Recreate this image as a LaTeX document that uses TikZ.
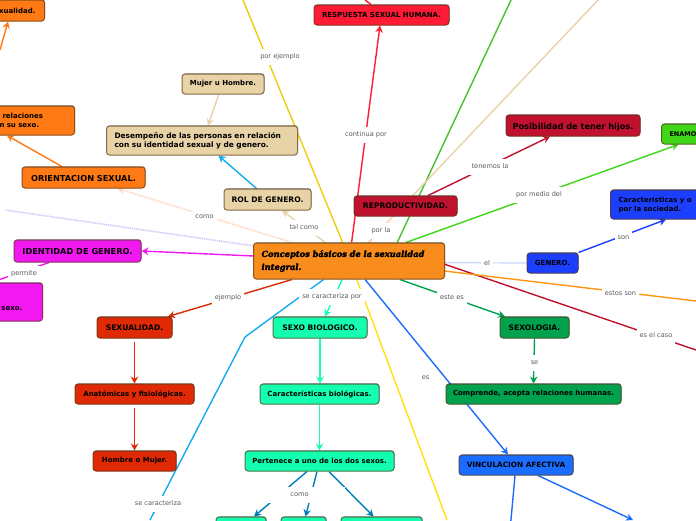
\documentclass[tikz,border=0pt]{standalone}
\usepackage{fontspec}
\setmainfont{DejaVu Sans}
\newfontfamily\titlefont{DejaVu Serif}[BoldItalicFeatures={FakeBold=2.6}]
\usetikzlibrary{arrows.meta,backgrounds,shadows}
\definecolor{cEdge}{HTML}{5A3A1A}
\definecolor{cTan}{HTML}{E8D3A7}
\definecolor{cOrange}{HTML}{FF7A14}
\definecolor{cCentral}{HTML}{F88D1E}
\definecolor{cMagenta}{HTML}{F218F2}
\definecolor{cRust}{HTML}{E02A05}
\definecolor{cAqua}{HTML}{14FFB0}
\definecolor{cRed}{HTML}{FF1A35}
\definecolor{cCrimson}{HTML}{C0112E}
\definecolor{cLime}{HTML}{3ED616}
\definecolor{cGrass}{HTML}{48C030}
\definecolor{cBlue}{HTML}{1C3FFF}
\definecolor{cSea}{HTML}{00A24E}
\definecolor{cAzure}{HTML}{1A6DFF}
\definecolor{cSky}{HTML}{14AAF0}
\definecolor{cDeep}{HTML}{007DB5}
\definecolor{cYellow}{HTML}{FFE010}
\definecolor{cLav}{HTML}{D5C8F8}
\definecolor{cPeach}{HTML}{FCD9C0}
\tikzset{
  box/.style={draw=#1!30!cEdge,fill=#1,line width=1,rounded corners=3,inner sep=0,align=center,text=black,
    font=\bfseries\fontsize{7}{9}\selectfont,
    drop shadow={shadow xshift=.6,shadow yshift=-.8,opacity=.35,fill=black}},
  big/.style={font=\bfseries\fontsize{8.2}{10}\selectfont,text height=7,text depth=0},
  caps/.style={font=\bfseries\fontsize{7.6}{9}\selectfont},
  link/.style={draw=#1,line width=1.4,-{Stealth[length=7,width=7.5]}},
  line/.style={draw=#1,line width=1.4},
  pale/.style={draw=#1,line width=1.6,dash pattern=on 1.4 off .8},
  lbl/.style={fill=white,inner xsep=3,inner ysep=0,minimum height=16,text=black!65,font=\fontsize{6.6}{8}\selectfont},
}
\begin{document}
\begin{tikzpicture}[x=1pt,y=-1pt]
	\useasboundingbox (0,0) rectangle (696,520);
	
	%%%%% nodes %%%%%
	\node[box=cCentral,anchor=west,minimum height=36,text width=175,inner xsep=8,align=left,font=\titlefont\bfseries\itshape\fontsize{8.3}{13}\selectfont] (central) at (253,261) {Conceptos básicos de la sexualidad\\integral.};
	
	\node[box=cOrange,anchor=east,minimum height=21,text width=60,inner xsep=9,align=right] (sexualidad) at (45,10.5) {xualidad.};
	\node[box=cOrange,anchor=west,minimum height=29,text width=67,inner xsep=8,align=left] (relaciones) at (-9,120.5) {\hspace*{3pt}relaciones\\n su sexo.};
	\node[box=cOrange,big,minimum width=123,minimum height=21] (orientacion) at (83.5,177.5) {ORIENTACION SEXUAL.};
	
	\node[box=cTan,minimum width=82,minimum height=20] (mujer) at (223,84) {Mujer u Hombre.};
	\node[box=cTan,anchor=west,minimum height=29,text width=175,inner xsep=8,align=left,font=\bfseries\fontsize{7.45}{9}\selectfont] (desempeno) at (106,140.5) {Desempeño de las personas en relación\\con su identidad sexual y de genero.};
	\node[box=cTan,caps,minimum width=87,minimum height=21] (rol) at (267.5,199.5) {ROL DE GENERO.};
	
	\node[box=cMagenta,big,minimum width=127,minimum height=22] (identidad) at (77.5,251) {IDENTIDAD DE GENERO.};
	\node[box=cMagenta,anchor=west,minimum height=38,text width=31,inner xsep=10,align=left] (sexo) at (-9,302) {\mbox{}\\\mbox{}\\sexo.};
	
	\node[box=cRust,caps,minimum width=75,minimum height=21] (sexualidadr) at (134.5,327.5) {SEXUALIDAD.};
	\node[box=cRust,minimum width=119,minimum height=20] (anatomicas) at (134.5,394) {Anatómicas y fisiológicas.};
	\node[box=cRust,minimum width=83,minimum height=20] (hombre) at (134.5,461) {Hombre o Mujer.};
	
	\node[box=cAqua,caps,minimum width=94,minimum height=21] (biologico) at (320,327.5) {SEXO BIOLOGICO.};
	\node[box=cAqua,minimum width=119,minimum height=20] (biologicas) at (319.5,394) {Características biológicas.};
	\node[box=cAqua,minimum width=149,minimum height=20] (pertenece) at (319.5,461) {Pertenece a uno de los dos sexos.};
	\node[box=cAqua,minimum width=50,minimum height=20] (sexoa) at (241,527) {};
	\node[box=cAqua,minimum width=45,minimum height=20] (sexob) at (303.5,527) {};
	\node[box=cAqua,minimum width=81,minimum height=20] (sexoc) at (381.5,527) {};
	
	\node[box=cRed,minimum width=135,minimum height=20] (respuesta) at (381.5,15) {RESPUESTA SEXUAL HUMANA.};
	\node[box=cCrimson,caps,minimum width=103,minimum height=20] (reproductividad) at (405.5,206) {REPRODUCTIVIDAD.};
	\node[box=cCrimson,big,minimum width=134,minimum height=21] (posibilidad) at (573,125.5) {Posibilidad de tener hijos.};
	\node[box=cLime,anchor=west,minimum height=20,text width=60,inner xsep=8,align=left,font=\bfseries\fontsize{6.5}{9}\selectfont] (enamo) at (661,134) {ENAMO};
	\node[box=cBlue,anchor=west,minimum height=29,text width=90,inner xsep=8,align=left] (caracteristicas) at (610,204.5) {Características y o\\por la sociedad.};
	\node[box=cBlue,minimum width=51,minimum height=20] (genero) at (552.5,263) {GENERO.};
	
	\node[box=cSea,caps,minimum width=69,minimum height=21] (sexologia) at (534.5,327.5) {SEXOLOGIA.};
	\node[box=cSea,minimum width=175,minimum height=20] (comprende) at (533.5,394) {Comprende, acepta relaciones humanas.};
	\node[box=cAzure,font=\bfseries\fontsize{7.3}{9}\selectfont,minimum width=114,minimum height=20] (vinculacion) at (516,465) {VINCULACION AFECTIVA};
	
	%%%%% free ends %%%%%
	\coordinate (topyellow) at (243,0);
	\coordinate (botyellow) at (447,520);
	\coordinate (toplime) at (511,0);
	\coordinate (toptan) at (600,-2);
	\coordinate (topred) at (365,0);
	\coordinate (farcrimson) at (696,350);
	\coordinate (farorange) at (696,301);
	\coordinate (bend) at (245,337);
	\coordinate (botsky) at (150,520);
	\coordinate (farlav) at (5,210);
	\coordinate (leftorange) at (0,50);
	\coordinate (botazure) at (510.5,525);
	\coordinate (rightazure) at (633,520);
	
	\begin{pgfonlayer}{background}
		\draw[line=cYellow!92!black] (central.109.9) -- (topyellow);
		\draw[line=cYellow] (central.-67.3) -- (botyellow);
		\draw[line=cGrass] (central.21.6) -- (toplime);
		\draw[line=cTan] (central.44) -- (toptan);
		\draw[pale=cPeach] (central.42.7) -- ([xshift=-12.5]reproductividad.south);
		\draw[link=cRed] (central.82.1) -- ([xshift=-1.5]respuesta.south);
		\draw[line=cRed] ([xshift=-10.5]respuesta.north) -- (topred);
		\draw[link=cLime] (central.18.9) -- ([xshift=-21]enamo.south);
		\draw[link=cCrimson] ([xshift=22.5]reproductividad.north) -- ([xshift=-23]posibilidad.south);
		\draw[link=cBlue] (genero.north east) -- ([xshift=56]caracteristicas.south west);
		\draw[draw=cBlue!22,line width=1.2] (central.-1.3) -- (genero.west);
		\draw[line=cCrimson] (central.-2.4) -- (farcrimson);
		\draw[line=cOrange!80!yellow] (central.-6.6) -- (farorange);
		\draw[link=cSea] (central.-20) -- ([xshift=-29.5]sexologia.north);
		\draw[link=cSea] (sexologia.south) -- (comprende.north);
		\draw[link=cAzure] (central.-49.3) -- ([xshift=-8]vinculacion.north);
		\draw[line=cAzure] ([xshift=-1]vinculacion.south) -- (botazure);
		\draw[link=cAzure] ([xshift=22]vinculacion.south) -- (rightazure);
		\draw[line=cSky] (central.-144.8) -- (bend) -- (botsky);
		\draw[link=cAqua] (central.-110) -- ([xshift=5]biologico.north);
		\draw[link=cRust] (central.-162) -- ([xshift=33.5]sexualidadr.north);
		\draw[link=cRust,shorten <=3] (sexualidadr.south) -- (anatomicas.north);
		\draw[link=cRust,shorten <=3] (anatomicas.south) -- (hombre.north);
		\draw[link=cAqua] (biologico.south) -- ([xshift=.5]biologicas.north);
		\draw[link=cAqua] (biologicas.south) -- (pertenece.north);
		\draw[link=cDeep] ([xshift=-12.5]pertenece.south) -- ([xshift=13]sexoa.north);
		\draw[link=cDeep] ([xshift=-2.5]pertenece.south) -- ([xshift=2]sexob.north);
		\draw[link=cDeep] ([xshift=9.5]pertenece.south) -- ([xshift=-8]sexoc.north);
		\draw[link=cMagenta] (central.177.6) -- (identidad.east);
		\draw[line=cMagenta] (identidad.-158) -- (sexo.north west);
		\draw[link=cOrange] (orientacion.153) -- ([xshift=16]relaciones.south west);
		\draw[link=cOrange] (leftorange) -- ([xshift=-37]sexualidad.south east);
		\draw[link=cTan] (mujer.-112) -- ([xshift=6]desempeno.north);
		\draw[link=cSky] (rol.135) -- ([xshift=16.5]desempeno.south);
		\draw[link=cTan] (central.142.6) -- ([xshift=14.5]rol.south);
		\draw[link=cPeach,dash pattern=on 1.4 off .8,line width=1.6] (central.162.9) -- ([xshift=34]orientacion.south);
		\draw[pale=cLav] (central.171.7) -- (farlav);
		
		%%%%% labels %%%%%
		\node[lbl] (lbejemplo) at (280,56.5) {por ejemplo};
		\node[lbl] (lbcontinua) at (366,134.5) {continua por};
		\node[lbl] (lbtenemos) at (490,166.5) {tenemos la};
		\node[lbl] (lbmedio) at (539,194.5) {por medio del};
		\node[lbl] (lbson) at (623.5,237.5) {son};
		\node[lbl] (lbel) at (487,263.5) {el};
		\node[lbl] (lbestos) at (620.5,293.5) {estos son};
		\node[lbl] (lbcaso) at (656,335.5) {es el caso};
		\node[lbl] (lbeste) at (452,297.5) {este es};
		\node[lbl] (lbse) at (534.5,362.5) {se};
		\node[lbl] (lbes) at (425.5,377.5) {es};
		\node[lbl] (lbtal) at (304,227.5) {tal como};
		\node[lbl] (lbcomoa) at (204.5,216.5) {como};
		\node[lbl] (lbpor) at (381,230.5) {por la};
		\node[lbl] (lbpermite) at (24,273.5) {permite};
		\node[lbl] (lbej) at (228,297.5) {ejemplo};
		\node[lbl] (lbcar) at (332,297) {se caracteriza por};
		\node[lbl] (lbcarb) at (158,503.5) {se caracteriza};
		\node[lbl,minimum width=90] (lbcomo) at (299.5,495) {como};
	\end{pgfonlayer}
\end{tikzpicture}
\end{document}
